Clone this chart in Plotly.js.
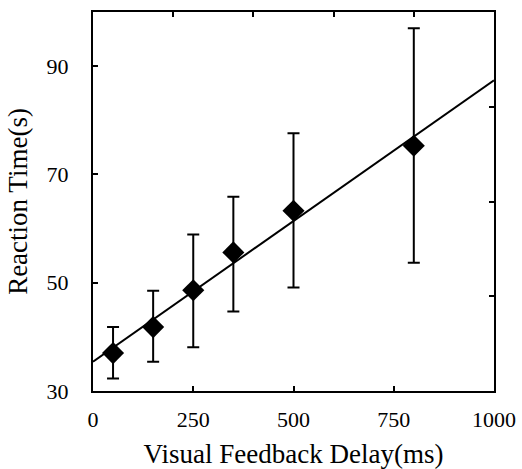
<!DOCTYPE html>
<html>
<head>
<meta charset="utf-8">
<script src="https://cdn.plot.ly/plotly-3.0.1.min.js"></script>
<style>html,body{margin:0;padding:0;background:#fff;}#chart{width:522px;height:469px;}</style>
</head>
<body>
<div id="chart"></div>
<script>
const delays = [50, 150, 250, 350, 500, 800];
const meanRT = [37.0, 41.8, 48.6, 55.6, 63.3, 75.3];
const upperRT = [41.8, 48.5, 58.9, 65.9, 77.6, 97.0];
const lowerRT = [32.3, 35.4, 38.1, 44.7, 49.1, 53.7];
const fitX = [0, 1000];
const fitY = [35.4, 87.4];
const xTicks = [0, 250, 500, 750, 1000];
const yTicks = [30, 50, 70, 90];

const font = "'Liberation Serif', serif";

const traces = [
  {x: fitX, y: fitY, mode: 'lines', line: {color: '#000', width: 2}, hoverinfo: 'skip', showlegend: false},
  {x: delays, y: meanRT, mode: 'markers', type: 'scatter', showlegend: false,
   marker: {symbol: 'diamond', size: 17, color: '#000'},
   error_y: {type: 'data', symmetric: false,
     array: upperRT.map((u, i) => u - meanRT[i]),
     arrayminus: lowerRT.map((l, i) => meanRT[i] - l),
     color: '#000', thickness: 2, width: 6}},
  {x: [], y: [], xaxis: 'x2', yaxis: 'y2', showlegend: false}
];

const layout = {
  width: 522, height: 469,
  margin: {l: 93, r: 28, t: 12, b: 78},
  paper_bgcolor: '#fff', plot_bgcolor: '#fff',
  font: {family: font, color: '#000'},
  showlegend: false,
  xaxis: {range: [0, 1000], tickvals: xTicks, ticktext: xTicks.map(String),
    showgrid: false, zeroline: false, showline: true, linecolor: '#000', linewidth: 2,
    ticks: 'inside', ticklen: 5, tickwidth: 2, tickcolor: '#000',
    tickfont: {family: font, size: 22}, ticklabelstandoff: 8,
    title: {text: 'Visual Feedback Delay(ms)', font: {family: font, size: 27}, standoff: 18}},
  yaxis: {range: [30, 100], tickvals: yTicks, ticktext: yTicks.map(String),
    showgrid: false, zeroline: false, showline: true, linecolor: '#000', linewidth: 2,
    ticks: 'inside', ticklen: 5, tickwidth: 2, tickcolor: '#000',
    tickfont: {family: font, size: 22}, ticklabelstandoff: 18,
    title: {text: 'Reaction Time(s)', font: {family: font, size: 27}, standoff: 11}},
  xaxis2: {overlaying: 'x', side: 'top', anchor: 'y2', range: [0, 1], dtick: 0.2, tick0: 0,
    showgrid: false, zeroline: false, showline: true, linecolor: '#000', linewidth: 2,
    ticks: 'inside', ticklen: 5, tickwidth: 2, tickcolor: '#000', showticklabels: false},
  yaxis2: {overlaying: 'y', side: 'right', anchor: 'x2', range: [0, 1], dtick: 0.25, tick0: 0,
    showgrid: false, zeroline: false, showline: true, linecolor: '#000', linewidth: 2,
    ticks: 'inside', ticklen: 5, tickwidth: 2, tickcolor: '#000', showticklabels: false}
};

Plotly.newPlot('chart', traces, layout, {displayModeBar: false, staticPlot: true});
</script>
</body>
</html>
